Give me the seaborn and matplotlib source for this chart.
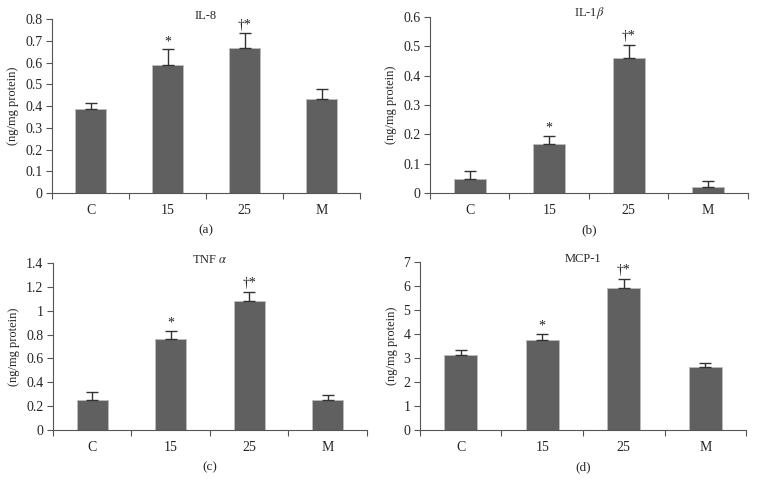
import numpy as np
import pandas as pd
import matplotlib
matplotlib.use("Agg")
import matplotlib.pyplot as plt
from matplotlib.ticker import FixedLocator
import seaborn as sns

groups = ["C", "15", "25", "M"]

il8 = [0.385, 0.590, 0.665, 0.430]
il8_err = [0.028, 0.070, 0.070, 0.048]

il1b = [0.047, 0.168, 0.460, 0.022]
il1b_err = [0.028, 0.025, 0.045, 0.018]

tnfa = [0.250, 0.760, 1.085, 0.250]
tnfa_err = [0.065, 0.070, 0.075, 0.045]

mcp1 = [3.12, 3.73, 5.90, 2.62]
mcp1_err = [0.23, 0.29, 0.40, 0.18]

marks = ["", "*", "\u2020*", ""]

sns.set_theme(style="ticks")
plt.rcParams['font.family'] = ['Liberation Serif', 'DejaVu Serif']
plt.rcParams['mathtext.fontset'] = 'stix'

bar_color = "#606060"
axis_color = "#555555"


def draw_panel(ax, values, errs, title, ymax, ystep, fmt, label):
    df = pd.DataFrame({"group": groups, "value": values})
    sns.barplot(data=df, x="group", y="value", ax=ax, color=bar_color,
                width=0.40, saturation=1, errorbar=None,
                edgecolor="#bdbdbd", linewidth=0.6)
    x = np.arange(len(groups))
    ax.errorbar(x, values, yerr=[np.zeros(len(errs)), errs], fmt="none",
                ecolor="#333333", elinewidth=1.0, capsize=4.5, capthick=1.0)
    for xi, v, e, m in zip(x, values, errs, marks):
        if m:
            ax.annotate(m, (xi, v + e), xytext=(0, 1), textcoords="offset points",
                        ha="center", va="bottom", fontsize=10, color="#222222")
    ax.set_xlim(-0.5, 3.5)
    ax.set_ylim(0, ymax)
    ticks = np.arange(0, ymax + ystep / 2, ystep)
    ax.set_yticks(ticks)
    ax.set_yticklabels([fmt(t) for t in ticks])
    ax.xaxis.set_minor_locator(FixedLocator([-0.5, 0.5, 1.5, 2.5, 3.5]))
    ax.tick_params(axis="x", which="major", length=0, pad=8, labelsize=10)
    ax.tick_params(axis="x", which="minor", length=4, width=0.8, color=axis_color)
    ax.tick_params(axis="y", length=4, width=0.8, color=axis_color, labelsize=10, pad=3)
    sns.despine(ax=ax)
    for s in ["left", "bottom"]:
        ax.spines[s].set_color(axis_color)
        ax.spines[s].set_linewidth(0.8)
    ax.set_xlabel("")
    ax.set_ylabel("(ng/mg protein)", fontsize=9, labelpad=4)
    ax.text(0.5, 1.02, title, transform=ax.transAxes, ha="center", va="center",
            fontsize=9)
    ax.annotate(label, (0.5, 0), xycoords="axes fraction", xytext=(0, -27),
                textcoords="offset points", ha="center", va="center", fontsize=9.5)


def fmt_dec(t):
    s = f"{t:.1f}"
    return "0" if t == 0 else (s.rstrip("0").rstrip(".") if s.endswith(".0") else s)


def fmt_int(t):
    return f"{int(round(t))}"


fig = plt.figure(figsize=(7.57, 4.84), dpi=100)
ax_a = fig.add_axes([0.0687, 0.6012, 0.407, 0.3595])
ax_b = fig.add_axes([0.568, 0.6012, 0.420, 0.364])
ax_c = fig.add_axes([0.070, 0.1116, 0.4148, 0.345])
ax_d = fig.add_axes([0.5548, 0.1116, 0.4307, 0.347])

draw_panel(ax_a, il8, il8_err, "IL-8", 0.8, 0.1, fmt_dec, "(a)")
draw_panel(ax_b, il1b, il1b_err, r"IL-1$\beta$", 0.6, 0.1, fmt_dec, "(b)")
draw_panel(ax_c, tnfa, tnfa_err, r"TNF $\alpha$", 1.4, 0.2, fmt_dec, "(c)")
draw_panel(ax_d, mcp1, mcp1_err, "MCP-1", 7, 1, fmt_int, "(d)")

fig.savefig("out.png", dpi=100)
